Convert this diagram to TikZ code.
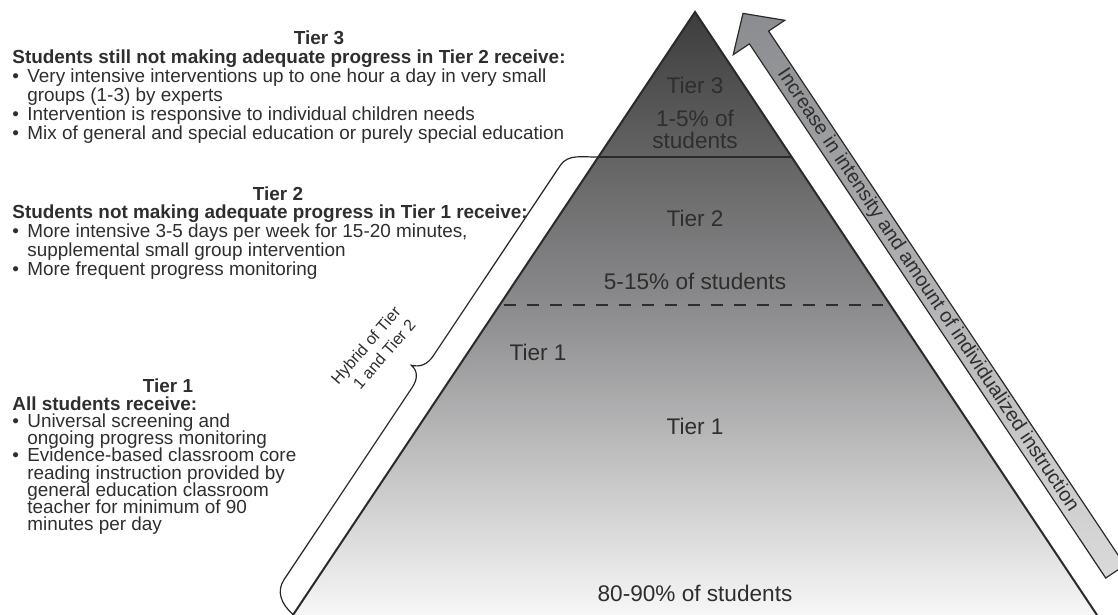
\documentclass[tikz,border=0pt]{standalone}
\usepackage{fontspec}
\setmainfont{Liberation Sans}
\usetikzlibrary{positioning,calc}

\definecolor{ink}{HTML}{2E2E2E}
\definecolor{edgegray}{HTML}{2A2A2A}
\definecolor{pyrtop}{HTML}{3D3D3D}
\definecolor{pyrmid}{HTML}{8E8E90}
\definecolor{pyrfoot}{HTML}{F9F9F9}
\definecolor{arrowtop}{HTML}{8B8C8F}
\definecolor{arrowfoot}{HTML}{DADADA}

% keep the leading fixed in the tight text blocks
\setlength{\lineskiplimit}{-5pt}

% bullet and the indent of a wrapped bullet line
\newcommand{\tbul}{\makebox[7.5pt][l]{\textbullet}}
\newcommand{\tcont}{\hspace*{7.5pt}}

\begin{document}
\begin{tikzpicture}[x=0.5pt,y=-0.5pt,
every node/.style={inner sep=0pt,text=ink},
side/.style={align=left,anchor=north west,font=\fontsize{9.45}{9.45}\selectfont},
head/.style={anchor=base,font=\fontsize{9.45}{9.45}\selectfont\bfseries},
lab/.style={align=center,font=\fontsize{11.3}{11}\selectfont},
hyb/.style={rotate=49,anchor=base west,font=\fontsize{8.1}{8.1}\selectfont},
edge/.style={draw=edgegray,line width=1pt,line join=miter},
tierdash/.style={draw=ink,line width=1pt,dash pattern=on 6pt off 5.5pt},
brace/.style={draw=black!85,line width=0.6pt}]

\useasboundingbox (0,0) rectangle (1118,615);

% pyramid corners
\coordinate (apex) at (695,12);
\coordinate (bl) at (293,615);
\coordinate (br) at (1097,615);

% where the tier lines meet the sides
\coordinate (t3l) at ($(apex)!0.2405!(bl)$);
\coordinate (t3r) at ($(apex)!0.2405!(br)$);
\coordinate (t2l) at ($(apex)!0.4859!(bl)$);
\coordinate (t2r) at ($(apex)!0.4859!(br)$);

\fill[top color=pyrtop,bottom color=pyrfoot,middle color=pyrmid]
  (apex) -- ($(br)+(4,6)$) -- ($(bl)+(-4,6)$) -- cycle;

\draw[edge] (bl) -- (apex) -- (br);
\draw[edge] (t3l) -- (t3r);
\draw[tierdash] ($(t2l)+(4,0)$) -- ($(t2r)+(-7,0)$);

% arrow along the right side
\draw[draw=edgegray,line width=0.6pt,top color=arrowtop,bottom color=arrowfoot]
  (743,13.4) -- (784.8,20.3) -- (768.6,31.1) -- (1124.9,565.2)
  -- (1105.7,578) -- (749.4,43.9) -- (733.2,54.7) -- cycle;
\node[rotate=-56.3,font=\fontsize{9.9}{9.9}\selectfont] (rise) at (927.7,290.4)
  {Increase in intensity and amount of individualized instruction};

% brace along the left side
\begin{scope}[shift={(t3l)},rotate=-123.7]
\draw[brace] (0,0) .. controls (9,13) and (14,27) .. (28,27) -- (257,27)
  .. controls (268,27) and (274,32) .. (277,40)
  .. controls (278,32) and (284,27) .. (295,27) -- (526,27)
  .. controls (540,27) and (548,16) .. (550,0);
\end{scope}
\node[hyb] (hyb1) at (338,386) {Hybrid of Tier};
\node[hyb] (hyb2) at (360,391) {1 and Tier 2};

% labels inside the pyramid
\node[lab] (in3) at (695,85) {Tier 3};
\node[lab] (in3p) at (695,129) {1-5\% of\\students};
\node[lab] (in2) at (695,218) {Tier 2};
\node[lab] (in2p) at (695,281) {5-15\% of students};
\node[lab] (in12) at (538,352) {Tier 1};
\node[lab] (in1) at (695,426) {Tier 1};
\node[lab] (in1p) at (695,593) {80-90\% of students};

% descriptions on the left
\node[head] (h3) at (319,45) {Tier 3};
\node[side] (d3) at (12,49.5) {\textbf{Students still not making adequate progress in Tier 2 receive:}\\
  \tbul Very intensive interventions up to one hour a day in very small\\
  \tcont groups (1-3) by experts\\
  \tbul Intervention is responsive to individual children needs\\
  \tbul Mix of general and special education or purely special education};

\node[head] (h2) at (278,200) {Tier 2};
\node[side] (d2) at (12,204.5) {\textbf{Students not making adequate progress in Tier 1 receive:}\\
  \tbul More intensive 3-5 days per week for 15-20 minutes,\\
  \tcont supplemental small group intervention\\
  \tbul More frequent progress monitoring};

\node[head] (h1) at (168,392) {Tier 1};
\node[side,font=\fontsize{9.45}{8.55}\selectfont] (d1) at (12,396.5) {\textbf{All students receive:}\\
  \tbul Universal screening and\\
  \tcont ongoing progress monitoring\\
  \tbul Evidence-based classroom core\\
  \tcont reading instruction provided by\\
  \tcont general education classroom\\
  \tcont teacher for minimum of 90\\
  \tcont minutes per day};

\end{tikzpicture}
\end{document}
